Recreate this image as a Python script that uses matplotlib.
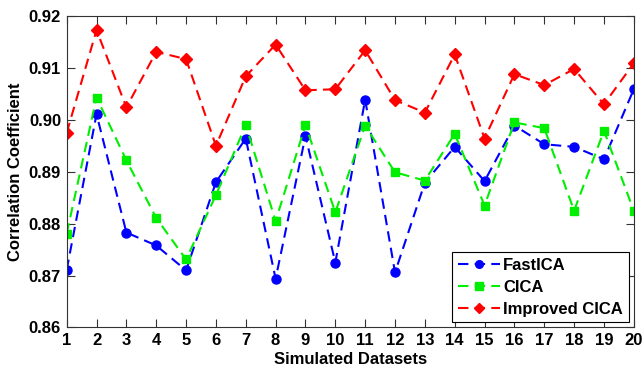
import numpy as np
import matplotlib.pyplot as plt

plt.rcParams['font.family'] = ['Liberation Sans', 'DejaVu Sans']
plt.rcParams['font.weight'] = 'bold'

datasets = list(range(1, 21))
fastica = [0.8711, 0.9011, 0.8783, 0.8758, 0.8710, 0.8880, 0.8964, 0.8694, 0.8969, 0.8725,
           0.9039, 0.8706, 0.8879, 0.8948, 0.8882, 0.8989, 0.8953, 0.8948, 0.8924, 0.9059]
cica = [0.8781, 0.9043, 0.8922, 0.8811, 0.8731, 0.8855, 0.8990, 0.8805, 0.8990, 0.8822,
        0.8989, 0.8899, 0.8883, 0.8973, 0.8835, 0.8995, 0.8984, 0.8825, 0.8979, 0.8825]
improved = [0.8975, 0.9173, 0.9024, 0.9131, 0.9117, 0.8950, 0.9084, 0.9145, 0.9057, 0.9059,
            0.9134, 0.9038, 0.9014, 0.9126, 0.8964, 0.9088, 0.9067, 0.9098, 0.9030, 0.9109]
yticks = [0.86, 0.87, 0.88, 0.89, 0.90, 0.91, 0.92]

fig = plt.figure(figsize=(6.43, 3.73), dpi=100)
ax = fig.add_axes([0.1037, 0.122, 0.882, 0.835])

ax.plot(datasets, fastica, color='#0000ff', marker='o', markersize=6.5, lw=1.5,
        dashes=(5, 3), label='FastICA')
ax.plot(datasets, cica, color='#00ee00', marker='s', markersize=6, lw=1.5,
        dashes=(5, 3), label='CICA')
ax.plot(datasets, improved, color='#ff0000', marker='D', markersize=6, lw=1.5,
        dashes=(5, 3), label='Improved CICA')

ax.set_xlim(1, 20)
ax.set_ylim(0.86, 0.92)
ax.set_xticks(datasets)
ax.set_yticks(yticks)
ax.set_yticklabels([f'{v:.2f}' for v in yticks])
ax.tick_params(direction='in', top=True, right=True, labelsize=12, length=6, width=0.8,
               color='#333333', pad=4)
for s in ax.spines.values():
    s.set_linewidth(0.8)
    s.set_color('#333333')

ax.set_xlabel('Simulated Datasets', fontsize=12, fontweight='bold', labelpad=3)
ax.set_ylabel('Correlation Coefficient', fontsize=12, fontweight='bold', labelpad=4)

leg = ax.legend(loc='lower right', fontsize=12, fancybox=False, framealpha=1,
                edgecolor='black', handlelength=2.5, borderpad=0.35, labelspacing=0.4,
                handletextpad=0.2, borderaxespad=0.3, markerscale=0.85)
leg.get_frame().set_linewidth(0.8)

fig.savefig('out.png', dpi=100)
